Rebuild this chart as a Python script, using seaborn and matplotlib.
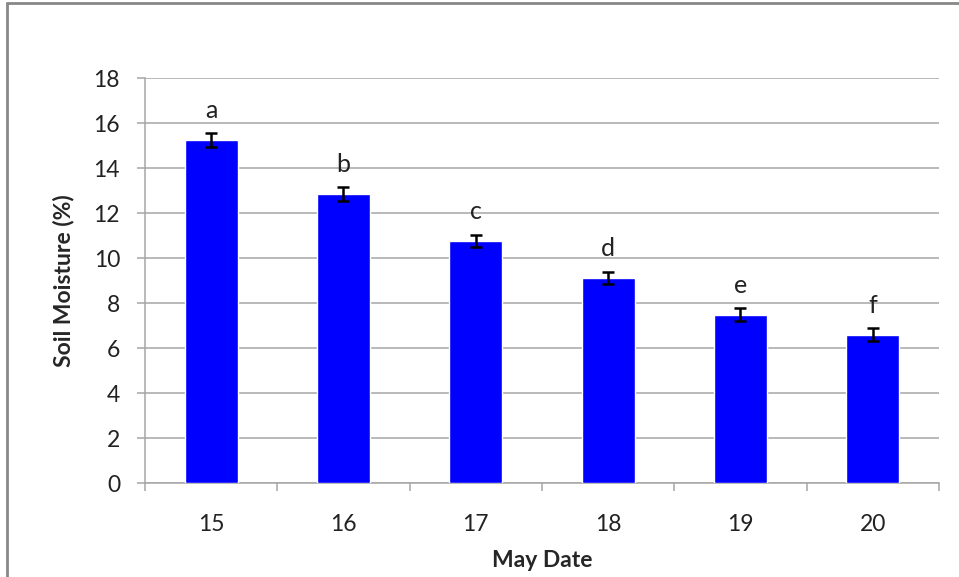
import matplotlib
matplotlib.use("Agg")
import matplotlib.pyplot as plt
import seaborn as sns
import pandas as pd
from matplotlib.lines import Line2D
from matplotlib.ticker import FixedLocator

# Data
dates = ["15", "16", "17", "18", "19", "20"]
moisture = [15.25, 12.85, 10.77, 9.13, 7.48, 6.6]
errors = [0.3, 0.3, 0.27, 0.27, 0.3, 0.3]
letters = ["a", "b", "c", "d", "e", "f"]

df = pd.DataFrame({"May Date": dates, "Soil Moisture (%)": moisture})

sns.set_style("white")
plt.rcParams["font.family"] = ["Lato", "DejaVu Sans"]

fs = 16.5
fig = plt.figure(figsize=(9.59, 5.77), dpi=100)
ax = fig.add_axes([0.1512, 0.1629, 0.979 - 0.1512, 0.8648 - 0.1629])

sns.barplot(data=df, x="May Date", y="Soil Moisture (%)", color="#0000FF",
            saturation=1, width=0.4, errorbar=None, ax=ax, zorder=3)
ax.errorbar(range(len(dates)), moisture, yerr=errors, fmt="none", ecolor="black",
            elinewidth=1.8, capsize=4.5, capthick=1.8, zorder=4)

for i, (v, e, lab) in enumerate(zip(moisture, errors, letters)):
    ax.text(i, v + e + 0.5, lab, ha="center", va="bottom", fontsize=18, color="#222222")

grid_col = "#a6a6a6"
ax.set_ylim(0, 18)
ax.set_xlim(-0.5, 5.5)
ax.set_yticks(range(0, 19, 2))
ax.yaxis.grid(True, color=grid_col, linewidth=1.1, zorder=0)
ax.set_axisbelow(True)
for s in ["top", "right"]:
    ax.spines[s].set_visible(False)
for s in ["left", "bottom"]:
    ax.spines[s].set_color(grid_col)
    ax.spines[s].set_linewidth(1.1)

ax.tick_params(axis="y", length=6, width=1.1, color=grid_col, pad=12,
               labelsize=fs, labelcolor="#222222", left=True)
ax.tick_params(axis="x", which="major", length=0, pad=22, labelsize=fs,
               labelcolor="#222222")
ax.xaxis.set_minor_locator(FixedLocator([i - 0.5 for i in range(len(dates) + 1)]))
ax.tick_params(axis="x", which="minor", length=6, width=1.1, color=grid_col,
               bottom=True, direction="out")

ax.set_xlabel("May Date", fontsize=fs, fontweight="bold", labelpad=11)
ax.set_ylabel("Soil Moisture (%)", fontsize=fs, fontweight="bold", labelpad=14)

# outer chart border
fig.add_artist(Line2D([7 / 959, 7 / 959], [0, 1 - 3 / 577], transform=fig.transFigure,
                      color="#888888", linewidth=2))
fig.add_artist(Line2D([7 / 959, 1], [1 - 3 / 577, 1 - 3 / 577], transform=fig.transFigure,
                      color="#888888", linewidth=2))

fig.savefig("out.png", dpi=100)
